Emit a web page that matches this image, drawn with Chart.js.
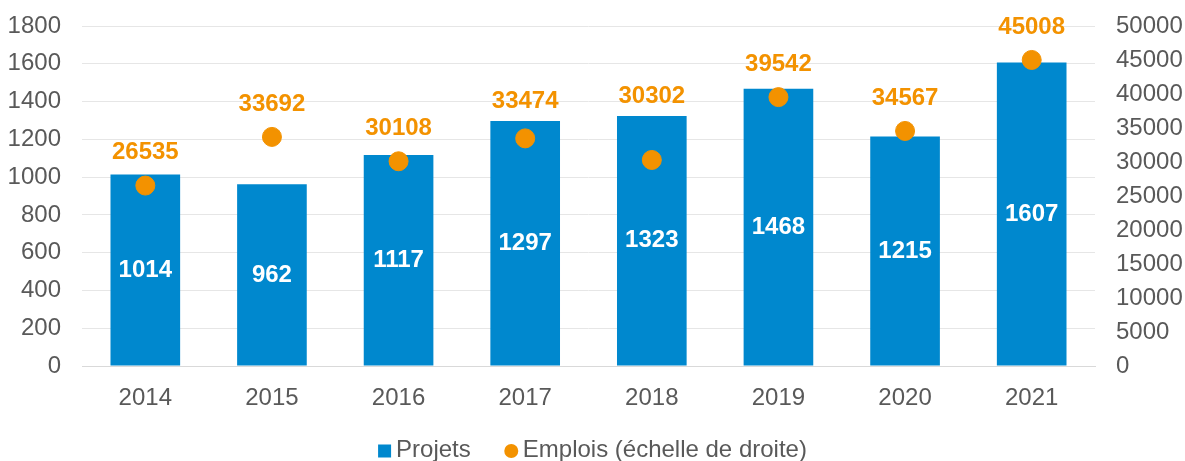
<!DOCTYPE html>
<html>
<head>
<meta charset="utf-8">
<script src="https://cdn.jsdelivr.net/npm/chart.js@4/dist/chart.umd.min.js"></script>
<style>
    html, body { margin: 0; padding: 0; background: #fff; }
    #wrap { width: 1185px; height: 461px; position: relative; }
</style>
</head>
<body>
<div id="wrap"><canvas id="chart"></canvas></div>
<script>
const years = ['2014', '2015', '2016', '2017', '2018', '2019', '2020', '2021'];
const projets = [1014, 962, 1117, 1297, 1323, 1468, 1215, 1607];
const emplois = [26535, 33692, 30108, 33474, 30302, 39542, 34567, 45008];
const leftTicks = [0, 200, 400, 600, 800, 1000, 1200, 1400, 1600, 1800];
const rightTicks = [0, 5000, 10000, 15000, 20000, 25000, 30000, 35000, 40000, 45000, 50000];

const BLUE = '#0088CE';
const ORANGE = '#F39200';
const GREY = '#595959';
const FONT = 'Arial, "Liberation Sans", sans-serif';

//..value labels drawn on the bars and above the points
const valueLabels = {
    id: 'valueLabels',
    afterDatasetsDraw(chart) {
        const ctx = chart.ctx;
        const bars = chart.getDatasetMeta(0).data;
        ctx.save();
        ctx.font = 'bold 24px ' + FONT;
        ctx.textAlign = 'center';
        ctx.textBaseline = 'middle';
        bars.forEach((bar, i) => {
            ctx.fillStyle = '#fff';
            ctx.fillText(projets[i], bar.x, (bar.y + bar.base) / 2);
        });
        chart.getDatasetMeta(1).data.forEach((pt, i) => {
            //..keep the label clear of the bar when the point sits inside it
            const y = Math.min(pt.y - 33, bars[i].y - 20);
            ctx.fillStyle = ORANGE;
            ctx.fillText(emplois[i], pt.x, y);
        });
        ctx.restore();
    }
};

//..legend at the bottom, drawn by hand
const bottomLegend = {
    id: 'bottomLegend',
    afterDraw(chart) {
        const ctx = chart.ctx;
        const y = 450;
        ctx.save();
        ctx.font = '24px ' + FONT;
        ctx.textBaseline = 'middle';
        ctx.textAlign = 'left';
        const t1 = 'Projets';
        const t2 = 'Emplois (échelle de droite)';
        const box = 13, gap = 5, between = 34;
        const w = box + gap + ctx.measureText(t1).width + between + box + gap + ctx.measureText(t2).width;
        let x = (chart.width - w) / 2;
        ctx.fillStyle = BLUE;
        ctx.fillRect(x, y - box / 2 + 1, box, box);
        x += box + gap;
        ctx.fillStyle = GREY;
        ctx.fillText(t1, x, y);
        x += ctx.measureText(t1).width + between;
        ctx.fillStyle = ORANGE;
        ctx.beginPath();
        ctx.arc(x + box / 2, y + 1, box / 2 + 0.5, 0, Math.PI * 2);
        ctx.fill();
        x += box + gap;
        ctx.fillStyle = GREY;
        ctx.fillText(t2, x, y);
        ctx.restore();
    }
};

//..fixed axis size without the extra label overflow padding
function fixWidth(w) {
    return scale => {
        scale.width = w;
        scale.paddingTop = 0;
        scale.paddingBottom = 0;
    };
}

new Chart(document.getElementById('chart'), {
    data: {
        labels: years,
        datasets: [{
            type: 'bar',
            label: 'Projets',
            data: projets,
            backgroundColor: BLUE,
            barPercentage: 0.55,
            categoryPercentage: 1,
            yAxisID: 'y',
            order: 2
        }, {
            type: 'line',
            label: 'Emplois (échelle de droite)',
            data: emplois,
            showLine: false,
            pointRadius: 9.5,
            pointHoverRadius: 9.5,
            pointBackgroundColor: ORANGE,
            pointBorderColor: ORANGE,
            yAxisID: 'y1',
            order: 1
        }]
    },
    options: {
        responsive: true,
        maintainAspectRatio: false,
        animation: false,
        layout: { padding: { top: 26, bottom: 0, left: 0, right: 0 } },
        plugins: {
            legend: { display: false },
            tooltip: { enabled: false }
        },
        scales: {
            x: {
                grid: { display: false, drawTicks: false },
                border: { color: '#d9d9d9', width: 1 },
                ticks: { color: GREY, font: { family: FONT, size: 24 }, padding: 18 },
                afterFit(scale) { scale.height = 95; }
            },
            y: {
                position: 'left',
                min: 0,
                max: 1800,
                afterBuildTicks(scale) { scale.ticks = leftTicks.map(v => ({ value: v })); },
                grid: { color: '#e6e6e6', drawTicks: false },
                border: { display: false },
                ticks: { color: GREY, font: { family: FONT, size: 24 }, padding: 21, callback: v => String(v) },
                afterFit: fixWidth(82)
            },
            y1: {
                position: 'right',
                min: 0,
                max: 50000,
                afterBuildTicks(scale) { scale.ticks = rightTicks.map(v => ({ value: v })); },
                grid: { display: false, drawTicks: false },
                border: { display: false },
                ticks: { color: GREY, font: { family: FONT, size: 24 }, padding: 21, callback: v => String(v) },
                afterFit: fixWidth(90)
            }
        }
    },
    plugins: [valueLabels, bottomLegend]
});
</script>
</body>
</html>
